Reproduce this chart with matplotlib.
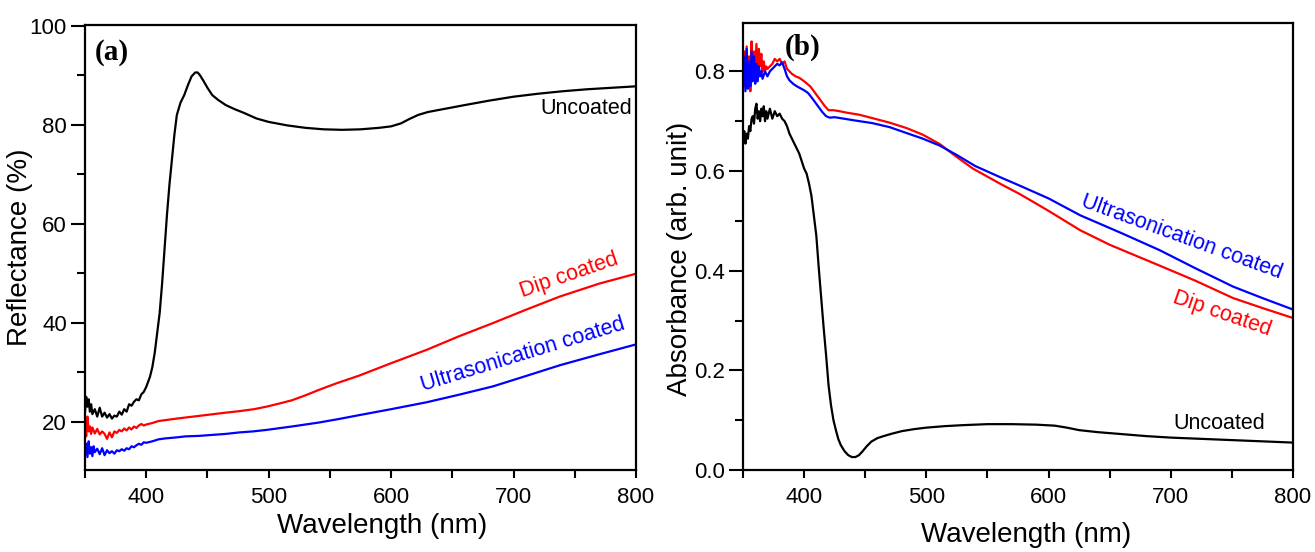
import matplotlib
matplotlib.use("Agg")
import matplotlib.pyplot as plt
from matplotlib.ticker import MultipleLocator, FormatStrFormatter

plt.rcParams['font.family'] = ['Liberation Sans', 'DejaVu Sans']

# (a) Reflectance (%) vs wavelength (nm)
wl_unc_a = [350, 351, 352, 353, 354, 355, 356, 358, 360, 362, 364, 366, 368, 370, 372, 374, 376, 378,
            380, 382, 384, 386, 388, 390, 392, 394, 396, 398, 400, 403, 405, 407, 409, 411, 413, 415,
            417, 419, 421, 423, 425, 428, 431, 434, 437, 440, 442, 444, 447, 450, 454, 459, 465, 472,
            480, 490, 500, 515, 530, 545, 560, 575, 590, 600, 608, 615, 622, 630, 645, 660, 680, 700,
            720, 740, 760, 780, 800]
refl_unc = [22, 25, 23, 24.5, 22, 23.5, 21.5, 22.5, 21, 22.8, 21, 21.8, 20.8, 21.5, 20.6, 21.2, 21, 22,
            21.4, 22.5, 22, 23.5, 23.2, 24, 24.5, 24.3, 25.5, 26, 27, 29, 31, 34, 38, 42, 48, 55,
            62, 68, 73, 78, 82, 84.5, 86, 88, 89.8, 90.6, 90.6, 90, 88.8, 87.5, 86, 85, 84, 83.2,
            82.4, 81.3, 80.6, 79.9, 79.4, 79.1, 79, 79.1, 79.4, 79.7, 80.3, 81.2, 82, 82.6, 83.3, 84, 84.9, 85.7,
            86.3, 86.8, 87.2, 87.5, 87.8]

wl_dip_a = [350, 351, 352, 353, 354, 355, 356, 358, 360, 362, 364, 366, 368, 370, 372, 374, 376, 378,
            380, 382, 384, 386, 388, 390, 392, 394, 396, 398, 400, 405, 410, 416, 425, 435, 445, 455,
            465, 476, 488, 498, 508, 519, 530, 541, 555, 574, 600, 629, 655, 683, 710, 738, 770, 800]
refl_dip = [19.5, 17, 21, 18, 19, 17.5, 18.8, 17.6, 18.5, 17.4, 18, 17.5, 16.5, 17.8, 16.8, 18, 17.7, 18.3,
            18, 18.6, 18.2, 18.8, 18.4, 19, 18.7, 19.2, 19.5, 19.2, 19.4, 19.7, 20.1, 20.3, 20.6, 20.9, 21.2, 21.5,
            21.8, 22.1, 22.5, 23.0, 23.6, 24.3, 25.3, 26.4, 27.7, 29.3, 31.8, 34.5, 37.2, 39.9, 42.6, 45.3, 47.9, 49.9]

wl_us_a = [350, 351, 352, 353, 354, 355, 356, 357, 358, 360, 362, 364, 366, 368, 370, 372, 374, 376, 378,
           380, 382, 384, 386, 388, 390, 392, 394, 396, 398, 400, 405, 410, 416, 425, 432, 443, 454, 465,
           476, 487, 498, 510, 519, 530, 541, 557, 574, 600, 629, 655, 683, 710, 738, 770, 800]
refl_us = [14, 15.5, 12.8, 16, 13.5, 14.8, 13, 15, 13.8, 14.5, 13.4, 14.6, 13.2, 14.2, 13.6, 14, 13.5, 14.2, 14,
           14.4, 14.1, 14.6, 14.4, 15, 14.8, 15.2, 15.5, 15.3, 15.8, 15.7, 16, 16.4, 16.6, 16.8, 17, 17.1, 17.3, 17.5,
           17.8, 18, 18.3, 18.7, 19, 19.4, 19.8, 20.5, 21.3, 22.5, 23.9, 25.4, 27.1, 29.2, 31.4, 33.6, 35.6]

# (b) Absorbance (arb. unit) vs wavelength (nm)
wl_unc_b = [350, 351, 352, 353, 354, 355, 356, 357, 358, 359, 360, 361, 362, 363, 364, 365, 366, 367, 368,
            369, 370, 372, 374, 376, 378, 380, 382, 384, 386, 388, 390, 392, 394, 396, 398, 400, 402, 404,
            406, 408, 410, 412, 414, 416, 418, 420, 422, 424, 426, 428, 430, 433, 436, 439, 442, 445, 448,
            451, 455, 460, 465, 472, 480, 490, 500, 515, 530, 550, 570, 590, 605, 615, 625, 640, 660, 680,
            700, 730, 760, 800]
abs_unc = [0.66, 0.68, 0.655, 0.675, 0.665, 0.69, 0.68, 0.705, 0.71, 0.695, 0.725, 0.735, 0.705, 0.72, 0.7,
           0.725, 0.71, 0.73, 0.7, 0.72, 0.705, 0.725, 0.705, 0.72, 0.71, 0.715, 0.705, 0.7, 0.69, 0.675,
           0.665, 0.655, 0.645, 0.635, 0.62, 0.605, 0.595, 0.575, 0.55, 0.51, 0.47, 0.405, 0.345, 0.285,
           0.23, 0.17, 0.13, 0.1, 0.08, 0.062, 0.05, 0.038, 0.03, 0.026, 0.026, 0.03, 0.038, 0.047, 0.057,
           0.064, 0.068, 0.073, 0.078, 0.082, 0.085, 0.088, 0.09, 0.092, 0.092, 0.091, 0.089, 0.085, 0.08,
           0.076, 0.072, 0.068, 0.065, 0.062, 0.059, 0.055]

wl_dip_b = [350, 351, 352, 353, 354, 355, 356, 357, 358, 359, 360, 361, 362, 363, 364, 365, 366, 367, 368,
            369, 370, 372, 374, 376, 378, 380, 382, 384, 386, 388, 390, 393, 396, 399, 402, 405, 408, 411,
            414, 417, 420, 424, 429, 435, 445, 456, 470, 484, 497, 511, 525, 538, 560, 577, 600, 626, 650,
            691, 720, 751, 775, 800]
abs_dip = [0.76, 0.84, 0.77, 0.85, 0.78, 0.83, 0.76, 0.86, 0.79, 0.84, 0.8, 0.855, 0.8, 0.845, 0.81, 0.835,
           0.8, 0.82, 0.8, 0.81, 0.805, 0.81, 0.815, 0.825, 0.82, 0.825, 0.815, 0.82, 0.805, 0.8, 0.795,
           0.79, 0.787, 0.782, 0.776, 0.77, 0.76, 0.75, 0.74, 0.73, 0.722, 0.722, 0.72, 0.717, 0.713, 0.706,
           0.697, 0.686, 0.673, 0.654, 0.628, 0.605, 0.575, 0.553, 0.52, 0.481, 0.452, 0.41, 0.38, 0.345,
           0.325, 0.305]

wl_us_b = [350, 351, 352, 353, 354, 355, 356, 357, 358, 359, 360, 361, 362, 363, 364, 365, 366, 368, 370,
           372, 374, 376, 378, 380, 382, 384, 386, 388, 391, 394, 397, 400, 403, 406, 409, 412, 415, 418,
           421, 425, 430, 440, 456, 470, 484, 497, 511, 525, 540, 560, 577, 600, 626, 660, 691, 720, 751,
           775, 800]
abs_us = [0.77, 0.83, 0.76, 0.845, 0.765, 0.82, 0.77, 0.84, 0.78, 0.83, 0.775, 0.815, 0.78, 0.81, 0.79, 0.8,
          0.785, 0.8, 0.79, 0.8, 0.805, 0.81, 0.815, 0.812, 0.818, 0.805, 0.79, 0.782, 0.775, 0.77, 0.766,
          0.762, 0.757, 0.748, 0.738, 0.728, 0.718, 0.71, 0.707, 0.708, 0.706, 0.702, 0.696, 0.688, 0.676,
          0.665, 0.651, 0.632, 0.61, 0.588, 0.57, 0.545, 0.511, 0.475, 0.441, 0.405, 0.368, 0.345, 0.322]

LW = 1.6
TICK_FS = 16
LABEL_FS = 20
NOTE_FS = 15.5

fig = plt.figure(figsize=(13.15, 5.52), dpi=100)
ax_a = fig.add_axes([85 / 1315, 82 / 552, 551 / 1315, 445 / 552])
ax_b = fig.add_axes([743 / 1315, 82 / 552, 550 / 1315, 447 / 552])


def style_axes(ax):
    for sp in ax.spines.values():
        sp.set_linewidth(1.6)
    ax.set_xlim(350, 800)
    ax.xaxis.set_major_locator(MultipleLocator(100))
    ax.xaxis.set_minor_locator(MultipleLocator(50))
    ax.tick_params(axis='x', which='both', direction='out', length=6, width=1.5,
                   labelsize=TICK_FS, top=False, pad=6)
    ax.tick_params(axis='y', which='major', direction='out', length=10, width=1.5,
                   labelsize=TICK_FS, right=False, pad=3)
    ax.tick_params(axis='y', which='minor', direction='out', length=6, width=1.5, right=False)
    ax.set_xlabel("Wavelength (nm)", fontsize=LABEL_FS)


# panel (a)
ax_a.plot(wl_unc_a, refl_unc, color='black', lw=LW)
ax_a.plot(wl_dip_a, refl_dip, color='red', lw=LW)
ax_a.plot(wl_us_a, refl_us, color='blue', lw=LW)
style_axes(ax_a)
ax_a.set_ylim(10.2, 100.2)
ax_a.yaxis.set_minor_locator(MultipleLocator(10))
ax_a.set_yticks([20, 40, 60, 80, 100])
ax_a.set_ylabel("Reflectance (%)", fontsize=LABEL_FS)
ax_a.yaxis.set_label_coords(-0.094, 0.50)
ax_a.xaxis.set_label_coords(0.539, -0.097)
ax_a.text(0.018, 0.939, "(a)", transform=ax_a.transAxes, fontsize=21, fontweight='bold',
          family='Liberation Serif', ha='left', va='center')
ax_a.text(797, 83.3, "Uncoated", fontsize=NOTE_FS, ha='right', va='center')
ax_a.text(745, 49.6, "Dip coated", color='red', fontsize=NOTE_FS, ha='center', va='center',
          rotation=19, rotation_mode='anchor')
ax_a.text(708, 33.5, "Ultrasonication coated", color='blue', fontsize=NOTE_FS, ha='center',
          va='center', rotation=17, rotation_mode='anchor')

# panel (b)
ax_b.plot(wl_unc_b, abs_unc, color='black', lw=LW)
ax_b.plot(wl_dip_b, abs_dip, color='red', lw=LW)
ax_b.plot(wl_us_b, abs_us, color='blue', lw=LW)
style_axes(ax_b)
ax_b.set_ylim(0, 0.897)
ax_b.yaxis.set_major_locator(MultipleLocator(0.2))
ax_b.yaxis.set_minor_locator(MultipleLocator(0.1))
ax_b.yaxis.set_major_formatter(FormatStrFormatter('%.1f'))
ax_b.set_ylabel("Absorbance (arb. unit)", fontsize=LABEL_FS)
ax_b.yaxis.set_label_coords(-0.091, 0.472)
ax_b.xaxis.set_label_coords(0.515, -0.116)
ax_b.text(0.076, 0.946, "(b)", transform=ax_b.transAxes, fontsize=21, fontweight='bold',
          family='Liberation Serif', ha='left', va='center')
ax_b.text(777, 0.094, "Uncoated", fontsize=NOTE_FS, ha='right', va='center')
ax_b.text(709, 0.467, "Ultrasonication coated", color='blue', fontsize=NOTE_FS, ha='center',
          va='center', rotation=-20, rotation_mode='anchor')
ax_b.text(742, 0.313, "Dip coated", color='red', fontsize=NOTE_FS, ha='center', va='center',
          rotation=-19, rotation_mode='anchor')

fig.savefig("out.png", dpi=100)
